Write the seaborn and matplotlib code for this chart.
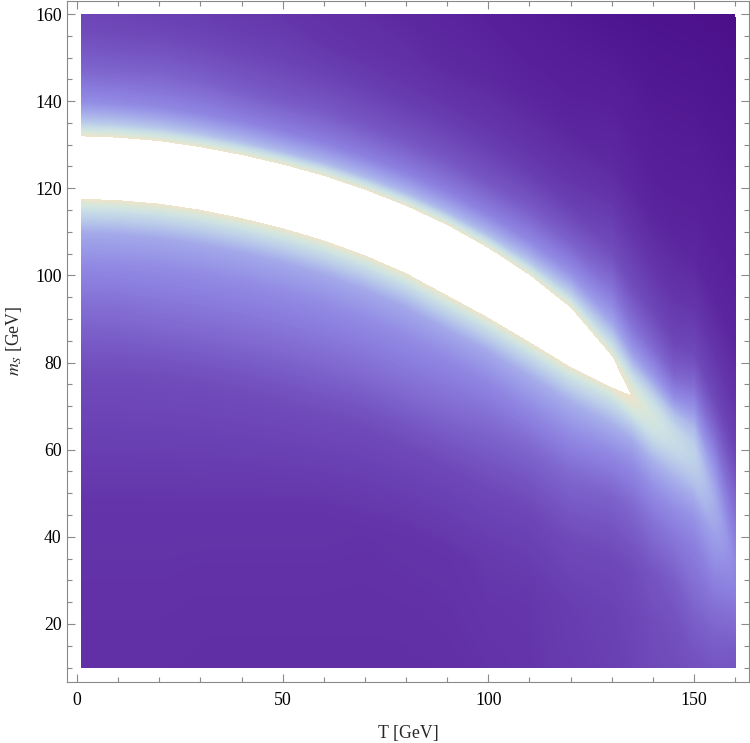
import numpy as np
import matplotlib
matplotlib.use("Agg")
import matplotlib.pyplot as plt
import seaborn as sns

# ---- data ----
# Each column (fixed T, GeV) lists sample heights m_S (GeV) and the colour-scale level there
# (0..1; values above 1 are clipped to white). Rows 8-10 are the bright band's lower edge,
# centre and upper edge.
T_cols = [1, 10, 20, 30, 40, 50, 60, 70, 80, 90, 100, 110, 120, 130, 135, 140, 145, 150, 155, 160]

m_T001 = [10, 45, 77.7, 92.7, 102.7, 109.7, 114.7, 117.7, 124.75, 131.8, 134.8, 139.8, 146.8, 155.8, 158, 160]
v_T001 = [0.26, 0.29, 0.41, 0.54, 0.64, 0.73, 0.87, 1.0, 1.25, 1.0, 0.83, 0.65, 0.52, 0.41, 0.395, 0.38]
m_T010 = [10, 45, 77.4, 92.4, 102.4, 109.4, 114.4, 117.4, 124.45, 131.5, 134.5, 139.5, 146.5, 155.5, 158, 160]
v_T010 = [0.26, 0.29, 0.41, 0.54, 0.64, 0.73, 0.87, 1.0, 1.25, 1.0, 0.82, 0.64, 0.51, 0.40, 0.385, 0.37]
m_T020 = [10, 45, 76.6, 91.6, 101.6, 108.6, 113.6, 116.6, 123.65, 130.7, 133.7, 138.7, 145.7, 154.7, 157.5, 160]
v_T020 = [0.26, 0.29, 0.41, 0.55, 0.64, 0.73, 0.87, 1.0, 1.25, 1.0, 0.81, 0.63, 0.51, 0.40, 0.37, 0.36]
m_T030 = [10, 45, 75.2, 90.2, 100.2, 107.2, 112.2, 115.2, 122.25, 129.3, 132.3, 137.3, 144.3, 153.3, 157, 160]
v_T030 = [0.25, 0.29, 0.41, 0.55, 0.64, 0.73, 0.87, 1.0, 1.25, 1.0, 0.80, 0.62, 0.50, 0.39, 0.36, 0.34]
m_T040 = [10, 45, 73.3, 88.3, 98.3, 105.3, 110.3, 113.3, 120.4, 127.5, 130.5, 135.5, 142.5, 151.5, 156, 160]
v_T040 = [0.25, 0.29, 0.41, 0.55, 0.64, 0.73, 0.87, 1.0, 1.25, 1.0, 0.79, 0.61, 0.48, 0.38, 0.34, 0.32]
m_T050 = [10, 45, 71.0, 86.0, 96.0, 103.0, 108.0, 111.0, 118.15, 125.3, 128.3, 133.3, 140.3, 149.3, 155, 160]
v_T050 = [0.25, 0.29, 0.41, 0.55, 0.64, 0.73, 0.87, 1.0, 1.25, 1.0, 0.78, 0.60, 0.47, 0.37, 0.33, 0.30]
m_T060 = [10, 45, 68.2, 83.2, 93.2, 100.2, 105.2, 108.2, 115.45, 122.7, 125.7, 130.7, 137.7, 146.7, 153.5, 160]
v_T060 = [0.25, 0.29, 0.41, 0.55, 0.64, 0.73, 0.87, 1.0, 1.25, 1.0, 0.78, 0.60, 0.47, 0.36, 0.30, 0.27]
m_T070 = [10, 40, 64.8, 79.8, 89.8, 96.8, 101.8, 104.8, 112.15, 119.5, 122.5, 127.5, 134.5, 143.5, 151.5, 160]
v_T070 = [0.25, 0.28, 0.40, 0.55, 0.64, 0.73, 0.87, 1.0, 1.25, 1.0, 0.78, 0.60, 0.46, 0.35, 0.28, 0.24]
m_T080 = [10, 40, 60.7, 75.7, 85.7, 92.7, 97.7, 100.7, 108.25, 115.8, 118.8, 123.8, 130.8, 139.8, 150, 160]
v_T080 = [0.25, 0.29, 0.40, 0.55, 0.64, 0.73, 0.87, 1.0, 1.25, 1.0, 0.78, 0.60, 0.46, 0.34, 0.26, 0.21]
m_T090 = [10, 35, 55.6, 70.6, 80.6, 87.6, 92.6, 95.6, 103.5, 111.4, 114.4, 119.4, 126.4, 135.4, 147, 160]
v_T090 = [0.26, 0.29, 0.39, 0.54, 0.63, 0.73, 0.87, 1.0, 1.25, 1.0, 0.78, 0.60, 0.46, 0.34, 0.23, 0.18]
m_T100 = [10, 35, 50.5, 65.5, 75.5, 82.5, 87.5, 90.5, 98.3, 106.1, 109.1, 114.1, 121.1, 130.1, 145, 160]
v_T100 = [0.28, 0.32, 0.39, 0.52, 0.63, 0.73, 0.87, 1.0, 1.25, 1.0, 0.79, 0.61, 0.46, 0.34, 0.21, 0.15]
m_T110 = [10, 27, 44.9, 59.9, 69.9, 76.9, 81.9, 84.9, 92.4, 99.9, 102.9, 107.9, 114.9, 123.9, 142, 160]
v_T110 = [0.30, 0.31, 0.38, 0.51, 0.64, 0.74, 0.87, 1.0, 1.22, 1.0, 0.81, 0.63, 0.48, 0.34, 0.18, 0.12]
m_T120 = [10, 24, 39.2, 54.2, 64.2, 71.2, 76.2, 79.2, 85.8, 92.4, 95.4, 100.4, 107.4, 116.4, 135, 160]
v_T120 = [0.33, 0.34, 0.40, 0.52, 0.65, 0.75, 0.88, 1.0, 1.18, 1.0, 0.84, 0.66, 0.50, 0.35, 0.18, 0.09]
m_T130 = [10, 22, 34.5, 49.5, 59.5, 66.5, 71.5, 74.5, 77.9, 81.3, 84.3, 89.3, 96.3, 105.3, 125, 160]
v_T130 = [0.35, 0.36, 0.39, 0.50, 0.64, 0.76, 0.88, 1.0, 1.07, 1.0, 0.87, 0.72, 0.57, 0.42, 0.22, 0.06]
m_T135 = [10, 21, 33, 47, 56, 62, 66.5, 69.5, 72, 74.5, 77.5, 82, 88, 97, 120, 160]
v_T135 = [0.37, 0.38, 0.41, 0.52, 0.63, 0.73, 0.84, 0.95, 0.99, 0.95, 0.85, 0.70, 0.56, 0.42, 0.20, 0.05]
m_T140 = [10, 20, 32, 44, 52, 58, 62, 65, 67.5, 70, 73, 77, 83, 92, 115, 160]
v_T140 = [0.40, 0.41, 0.45, 0.56, 0.66, 0.76, 0.85, 0.91, 0.93, 0.90, 0.82, 0.68, 0.53, 0.39, 0.18, 0.04]
m_T145 = [10, 20, 30, 40, 47, 53, 57, 60, 62.5, 65, 68, 72, 77, 85, 110, 160]
v_T145 = [0.41, 0.43, 0.48, 0.57, 0.65, 0.74, 0.81, 0.86, 0.88, 0.86, 0.79, 0.65, 0.51, 0.38, 0.18, 0.035]
m_T150 = [10, 20, 30, 38, 45, 50, 53, 55, 58, 61, 65, 69, 74, 82, 105, 160]
v_T150 = [0.43, 0.48, 0.55, 0.60, 0.67, 0.75, 0.80, 0.82, 0.84, 0.83, 0.77, 0.67, 0.55, 0.40, 0.19, 0.03]
m_T155 = [10, 18, 25, 31, 36, 40, 42, 44, 47, 50, 54, 58, 64, 72, 95, 160]
v_T155 = [0.45, 0.50, 0.56, 0.62, 0.67, 0.70, 0.72, 0.73, 0.74, 0.73, 0.69, 0.63, 0.52, 0.39, 0.19, 0.02]
m_T160 = [10, 14, 18, 22, 25, 27, 29, 31, 33, 35, 38, 43, 50, 60, 85, 160]
v_T160 = [0.45, 0.47, 0.51, 0.55, 0.58, 0.60, 0.615, 0.62, 0.63, 0.625, 0.61, 0.57, 0.50, 0.37, 0.19, 0.01]

x_major = [0, 50, 100, 150]
y_major = [20, 40, 60, 80, 100, 120, 140, 160]

m_cols = [m_T001, m_T010, m_T020, m_T030, m_T040, m_T050, m_T060, m_T070, m_T080, m_T090,
          m_T100, m_T110, m_T120, m_T130, m_T135, m_T140, m_T145, m_T150, m_T155, m_T160]
v_cols = [v_T001, v_T010, v_T020, v_T030, v_T040, v_T050, v_T060, v_T070, v_T080, v_T090,
          v_T100, v_T110, v_T120, v_T130, v_T135, v_T140, v_T145, v_T150, v_T155, v_T160]

M = np.array(m_cols, dtype=float).T          # rows x columns
V = np.array(v_cols, dtype=float).T
Tg = np.tile(np.array(T_cols, dtype=float), (M.shape[0], 1))

# ---- style ----
sns.set_theme(style="ticks")
plt.rcParams["font.family"] = ["Liberation Serif", "DejaVu Serif"]
plt.rcParams["mathtext.fontset"] = "stix"

lake_colors = ["#4A0E86", "#4E1490", "#531A94", "#57209A", "#5B279F", "#602EA5",
               "#6435AA", "#693FB2", "#6F49B9", "#7555C2", "#7C62CB", "#8470D5",
               "#8B7EDE", "#938DE4", "#9C9DE8", "#A7AFEA", "#B4C3EA", "#C1D5E8",
               "#CDE2E4", "#D9E6DA", "#EDE4C9"]
cmap = sns.blend_palette(lake_colors, as_cmap=True)
cmap.set_over("white")
cmap.set_under(lake_colors[0])

fig = plt.figure(figsize=(7.5, 7.43), dpi=100)
ax = fig.add_axes([67.3 / 750, 61 / 743, 682 / 750, 681.5 / 743])

levels = np.linspace(0, 1, 257)
ax.contourf(Tg, M, V, levels=levels, cmap=cmap, extend="both", antialiased=False)

ax.set_xlim(-2.36, 163.46)
ax.set_ylim(6.68, 163.1)

ax.set_xticks(x_major)
ax.set_xticks(list(range(0, 161, 10)), minor=True)
ax.set_yticks(y_major)
ax.set_yticks(list(range(10, 161, 5)), minor=True)

grey = "#8a8a8a"
ax.tick_params(which="both", direction="in", top=True, right=True,
               color=grey, width=0.8, labelsize=12.8, labelcolor="black")
ax.tick_params(which="major", length=5.8)
ax.tick_params(which="minor", length=3.4)
ax.tick_params(axis="x", which="major", pad=7.5)
ax.tick_params(axis="y", which="major", pad=4)
for s in ax.spines.values():
    s.set_color(grey)
    s.set_linewidth(0.8)
ax.set_facecolor("white")

ax.set_xlabel("T [GeV]", fontsize=12.8, labelpad=11)
ax.set_ylabel(r"$m_S$ [GeV]", fontsize=12.8, labelpad=8)

fig.savefig("out.png", dpi=100)
